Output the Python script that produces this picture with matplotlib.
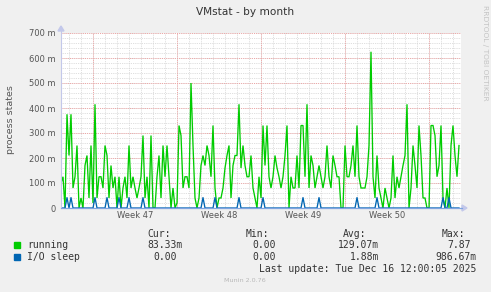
import matplotlib
matplotlib.use("Agg")
import matplotlib.pyplot as plt
import numpy as np

W, H = 491, 292

# ---- data (milli-processes, 4-hour steps, 200 points) ----
running = [
    100, 125, 0, 375, 210, 375, 80, 125, 250, 0, 40, 0, 170, 210, 40, 250, 20, 415, 40, 125,
    125, 80, 250, 210, 40, 170, 80, 125, 0, 125, 0, 80, 125, 40, 250, 80, 125, 80, 40, 80,
    125, 290, 40, 125, 0, 290, 0, 0, 125, 210, 40, 250, 125, 250, 125,
    0, 80, 0, 20, 330, 290, 80, 125, 125, 80, 500, 250, 40, 0, 40, 170, 210, 170, 250, 210,
    125, 330, 80, 0, 40, 40, 80, 160, 210, 250, 40, 170, 210, 210, 415, 160, 250, 170, 125, 125,
    210, 80, 40, 0, 125, 40, 330, 170, 330, 125, 80, 125, 210, 160, 125, 80, 125, 210, 330, 0,
    125, 80, 80, 210, 80, 330, 330, 125, 415, 80, 210, 170, 80, 125, 170, 125, 80, 125, 250, 125,
    80, 210, 170, 125, 125, 0, 0, 250, 125, 125, 170, 250, 125, 330, 125, 80, 80, 80, 125, 250,
    625, 125, 40, 210, 80, 40, 0, 80, 40, 0, 40, 210, 40, 125, 80, 125, 170, 210, 415, 0,
    80, 250, 170, 80, 330, 210, 40, 40, 0, 0, 330, 330, 290, 125, 170, 330, 40, 0, 80, 0,
    250, 330, 210, 125, 250,
]
io_sleep = [
    0, 0, 0, 41.67, 0, 41.67, 0, 0, 0, 0, 0, 0, 0, 0, 0, 0, 0, 41.67, 0, 0,
    0, 0, 0, 41.67, 0, 0, 0, 0, 0, 41.67, 0, 0, 0, 0, 41.67, 0, 0, 0, 0, 0,
    0, 41.67, 0, 0, 0, 0, 0, 0, 0, 0, 0, 0, 0, 0, 0,
    0, 0, 0, 0, 0, 0, 0, 0, 0, 0, 0, 0, 0, 0, 0, 0, 41.67, 0, 0, 0,
    0, 0, 41.67, 0, 0, 0, 0, 0, 0, 0, 0, 0, 0, 0, 41.67, 0, 0, 0, 0, 0,
    0, 0, 0, 0, 0, 0, 41.67, 0, 0, 0, 0, 0, 0, 0, 0, 0, 0, 0, 0, 0,
    0, 0, 0, 0, 0, 0, 41.67, 0, 0, 0, 0, 0, 0, 0, 41.67, 0, 0, 0, 0, 0,
    0, 0, 0, 0, 0, 0, 0, 0, 0, 0, 0, 0, 0, 41.67, 0, 0, 0, 0, 0, 0,
    0, 0, 0, 41.67, 0, 0, 0, 0, 0, 0, 0, 0, 0, 0, 0, 0, 0, 0, 0, 0,
    0, 0, 0, 0, 0, 0, 0, 0, 0, 0, 0, 0, 0, 0, 0, 0, 41.67, 0, 0, 41.67,
    0, 0, 0, 0, 0,
]
step_days = 4 / 24.0
t_days = np.arange(len(running)) * step_days

week_labels = ["Week 47", "Week 48", "Week 49", "Week 50"]
week_starts = [2.667, 9.667, 16.667, 23.667, 30.667]   # Monday 00:00 boundaries (days from start)
x_span = 33.333
y_max = 700
y_ticks = [0, 100, 200, 300, 400, 500, 600, 700]
y_tick_labels = ["0", "100 m", "200 m", "300 m", "400 m", "500 m", "600 m", "700 m"]

legend_names = ["running", "I/O sleep"]
legend_colors = ["#00CC00", "#0066B3"]
legend_cur = ["83.33m", "0.00"]
legend_min = ["0.00", "0.00"]
legend_avg = ["129.07m", "1.88m"]
legend_max = ["7.87", "986.67m"]

# ---- figure ----
fig = plt.figure(figsize=(W / 100, H / 100), dpi=100, facecolor="#F0F0F0")

def fx(x):
    return x / W

def fy(y):
    return 1 - y / H

L, R, T, B = 61, 461, 33, 208
ax = fig.add_axes([fx(L), fy(B), (R - L) / W, (B - T) / H])
ax.set_facecolor("white")
ax.set_xlim(0, x_span)
ax.set_ylim(0, y_max)
for s in ax.spines.values():
    s.set_visible(False)

# grid
dot = (0, (1, 1.2))
for d in np.arange(week_starts[0] - 2, x_span, 1.0):
    ax.axvline(d, color="#D4D4D4", lw=0.6, ls=dot, zorder=0)
for v in np.arange(20, y_max + 1, 20):
    ax.axhline(v, color="#D4D4D4", lw=0.6, ls=dot, zorder=0)
for d in week_starts:
    ax.axvline(d, color="#EFA3A3", lw=0.7, ls=dot, zorder=1)
for v in y_ticks[1:]:
    ax.axhline(v, color="#EFA3A3", lw=0.7, ls=dot, zorder=1)

ax.plot(t_days, running, color=legend_colors[0], lw=0.95, zorder=3, solid_joinstyle="miter")
ax.plot(t_days, io_sleep, color=legend_colors[1], lw=0.95, zorder=4)

ax.set_xticks([])
ax.set_yticks(y_ticks)
ax.set_yticklabels(y_tick_labels, fontsize=6, color="#555555")
ax.tick_params(axis="y", length=0, pad=4)

for i, lab in enumerate(week_labels):
    mid = (week_starts[i] + week_starts[i + 1]) / 2
    ax.text(mid, -4, lab, transform=ax.get_xaxis_transform(), fontsize=6,
            color="#555555", ha="center", va="center")
# fix y offset of week labels using pixels
for txt in ax.texts:
    txt.set_transform(matplotlib.transforms.blended_transform_factory(ax.transData, fig.transFigure))
    txt.set_y(fy(215))

# axes lines + arrows
fig.add_artist(plt.Line2D([fx(L), fx(L)], [fy(B), fy(29)], color="#C3C8EA", lw=0.8))
fig.add_artist(plt.Line2D([fx(L), fx(462)], [fy(B), fy(B)], color="#7FA3E0", lw=0.9))
fig.add_artist(plt.Polygon([[fx(58), fy(31)], [fx(64), fy(31)], [fx(61), fy(26)]],
                           closed=True, color="#C3C8EA", transform=fig.transFigure))
fig.add_artist(plt.Polygon([[fx(462), fy(205)], [fx(462), fy(211)], [fx(467), fy(208)]],
                           closed=True, color="#C3C8EA", transform=fig.transFigure))

# texts
fig.text(fx(245.5), fy(12), "VMstat - by month", fontsize=7.6, color="#333333",
         ha="center", va="center")
fig.text(fx(11), fy(120), "process states", fontsize=6.8, color="#555555",
         rotation=90, ha="center", va="center")
fig.text(fx(485), fy(5), "RRDTOOL / TOBI OETIKER", fontsize=5.4, color="#C4C4C4",
         rotation=270, ha="center", va="top")

mono = dict(family="DejaVu Sans Mono", fontsize=7, color="#333333", va="center")
fig.text(fx(171), fy(234), "Cur:", ha="right", **mono)
fig.text(fx(269), fy(234), "Min:", ha="right", **mono)
fig.text(fx(366), fy(234), "Avg:", ha="right", **mono)
fig.text(fx(465), fy(234), "Max:", ha="right", **mono)

row_y = [244.5, 257]
cur_r = [183, 177]
max_r = [471, 477]
for i in range(2):
    y = row_y[i]
    fig.add_artist(plt.Rectangle((fx(14), fy(y + 3)), 6 / W, 6 / H,
                                 color=legend_colors[i], transform=fig.transFigure))
    fig.text(fx(27), fy(y), legend_names[i], ha="left", **mono)
    fig.text(fx(cur_r[i]), fy(y), legend_cur[i], ha="right", **mono)
    fig.text(fx(276), fy(y), legend_min[i], ha="right", **mono)
    fig.text(fx(379), fy(y), legend_avg[i], ha="right", **mono)
    fig.text(fx(max_r[i]), fy(y), legend_max[i], ha="right", **mono)

fig.text(fx(476), fy(269), "Last update: Tue Dec 16 12:00:05 2025", ha="right", **mono)
fig.text(fx(245), fy(281), "Munin 2.0.76", fontsize=4.6, color="#B8B8B8",
         ha="center", va="center")

fig.savefig("out.png", dpi=100, facecolor=fig.get_facecolor())
